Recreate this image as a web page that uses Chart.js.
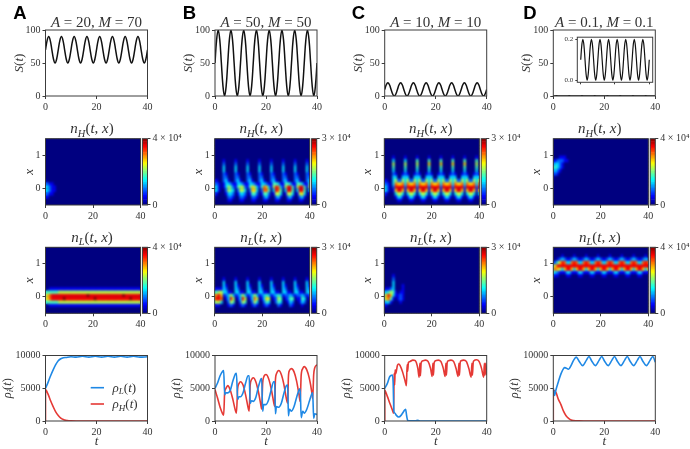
<!DOCTYPE html>
<html><head><meta charset="utf-8">
<script src="https://cdn.jsdelivr.net/npm/chart.js@4"></script>
<style>
html,body{margin:0;padding:0;background:#fff;width:690px;height:449px;overflow:hidden}
#page{position:relative;width:690px;height:449px;filter:blur(0.5px)}
canvas{position:absolute}
</style></head><body><div id="page"></div>
<script>
// ---------- categories and tick labels ----------
const panelLetters=["A","B","C","D"];
const paramLabels=[["20, ","70"],["50, ","50"],["10, ","10"],["0.1, ","0.1"]];
const xTicks=[0,20,40];
const sTicks=[0,50,100];
const rhoTicks=[0,5000,10000];
const heatYTicks=[0,1];
const insetYTicks=[0,0.2];
const cbarMaxH=[40000,30000,30000,40000];
const cbarMaxL=[40000,30000,30000,40000];
const cbarLabels={30000:"3 × 10⁴",40000:"4 × 10⁴",0:"0"};

// ---------- S(t) ----------
const tS=[0,0.625,1.25,1.875,2.5,3.125,3.75,4.375,5,5.625,6.25,6.875,7.5,8.125,8.75,9.375,10,10.625,11.25,11.875,12.5,13.125,13.75,14.375,15,15.625,16.25,16.875,17.5,18.125,18.75,19.375,20,20.625,21.25,21.875,22.5,23.125,23.75,24.375,25,25.625,26.25,26.875,27.5,28.125,28.75,29.375,30,30.625,31.25,31.875,32.5,33.125,33.75,34.375,35,35.625,36.25,36.875,37.5,38.125,38.75,39.375,40];
const sA=[70,84,90,84,70,56,50,56,70,84,90,84,70,56,50,56,70,84,90,84,70,56,50,56,70,84,90,84,70,56,50,56,70,84,90,84,70,56,50,56,70,84,90,84,70,56,50,56,70,84,90,84,70,56,50,56,70,84,90,84,70,56,50,56,70];
const sB=[50,85,100,85,50,15,0,15,50,85,100,85,50,15,0,15,50,85,100,85,50,15,0,15,50,85,100,85,50,15,0,15,50,85,100,85,50,15,0,15,50,85,100,85,50,15,0,15,50,85,100,85,50,15,0,15,50,85,100,85,50,15,0,15,50];
const sC=[10,17,20,17,10,3,0,3,10,17,20,17,10,3,0,3,10,17,20,17,10,3,0,3,10,17,20,17,10,3,0,3,10,17,20,17,10,3,0,3,10,17,20,17,10,3,0,3,10,17,20,17,10,3,0,3,10,17,20,17,10,3,0,3,10];
const sD=[.1,.17,.2,.17,.1,.03,0,.03,.1,.17,.2,.17,.1,.03,0,.03,.1,.17,.2,.17,.1,.03,0,.03,.1,.17,.2,.17,.1,.03,0,.03,.1,.17,.2,.17,.1,.03,0,.03,.1,.17,.2,.17,.1,.03,0,.03,.1,.17,.2,.17,.1,.03,0,.03,.1,.17,.2,.17,.1,.03,0,.03,.1];

// ---------- rho(t) ----------
const tLA=[0,1,2,3,4,5,6,7,8,10,12,14.5,17,19.5,22,24.5,27,29.5,32,34.5,37,40];
const rLA=[5000,5900,6900,7800,8600,9200,9500,9650,9700,9800,9750,9880,9750,9880,9750,9880,9750,9880,9750,9880,9750,9800];
const tHA=[0,0,1,2,3,4,5,6,7,8,9,10,12,40];
const rHA=[0,4800,4100,3100,2200,1400,850,450,220,100,50,20,0,0];

const tLB=[0,1,2,3,3.4,3.8,4.2,5,6,7,8,8.4,8.9,9.4,10,11,12,13,13.4,13.8,14.3,15,16,17,18,18.3,18.7,19.1,20,21,22,23,23.4,23.7,24.1,25,26,27,28,28.5,28.8,29.2,30,31,32,33,33.4,33.8,34.4,35,36,37,38,38.3,38.7,39.1,40];
const rLB=[5000,5800,6900,7600,7700,4000,4300,4300,4700,6100,7200,7300,3300,3700,3700,4300,5800,6900,6900,2700,3100,3000,3600,5200,6400,6500,1500,2500,2500,3200,4700,6000,6000,1100,2200,2100,2700,4200,5400,5500,800,1800,1500,2200,3600,4800,4900,500,1500,1200,1800,3000,4200,4300,400,1100,1000];
const tHB=[0,1,2,3,3.4,3.8,4.2,5,6,7,8,8.4,8.9,9.4,10,11,12,13,13.4,13.8,14.3,15,16,17,18,18.3,18.7,19.1,20,21,22,23,23.4,23.7,24.1,25,26,27,28,28.5,28.8,29.2,30,31,32,33,33.4,33.8,34.4,35,36,37,38,38.3,38.7,39.1,40];
const rHB=[4800,3500,2100,1100,900,4400,4900,5400,4700,3300,1600,1200,5000,5700,6000,5500,4000,2000,1500,5500,6300,6600,6000,4500,2400,1800,5800,6700,7100,6500,5000,2900,2200,6300,7200,7700,7100,5600,3400,2700,6800,7700,8000,7500,6100,3900,3000,7000,8000,8300,7800,6500,4300,3400,7100,8100,8600];

const tLC=[0,1,2,3,3.3,3.6,4,4.5,5.5,6.5,7.5,8.2,8.6,9,10,12,13,14,16,40];
const rLC=[5000,5700,6800,7000,6000,1500,1200,900,600,900,1500,1800,800,100,20,30,100,10,0,0];
const tHC=[0,0,1,2,3,3.5,3.7,3.9,4.1,4.3,5,5.5,6,7,8,8.5,8.8,9,9.3,10,11,12,13,13.5,13.8,14,14.3,15,16,17,18,18.6,18.9,19.1,19.4,20,21,22,23,23.7,24,24.2,24.5,25,26,27,28,28.8,29.1,29.3,29.6,30,31,32,33,33.9,34.2,34.4,34.7,35,36,37,38,38.8,39.1,39.3,39.6,40];
const rHC=[0,4700,3800,2700,1700,1200,7300,5500,7800,7200,8500,8700,8500,7500,6100,5400,8600,7600,8900,9100,9300,9200,8000,6700,8800,6900,8900,9200,9300,9100,8000,6800,8800,7000,8900,9200,9300,9100,8000,6800,8800,7000,8900,9200,9300,9100,8000,6800,8800,7000,8900,9200,9300,9100,8000,6700,8800,7000,8900,9200,9350,9100,8000,6700,8800,7000,8800,7000];

const tLD=[0,0.5,1,2,3,4,4.5,6,7,8,9,10,11.5,13,14,15,16.5,18,19,20,21.5,23,24,25,26.5,28,29,30,31.5,33,34,35,36.5,38,39,40];
const rLD=[5000,3900,4700,6000,7200,8000,8150,7900,8500,9300,9750,9200,8450,9300,9850,9200,8450,9300,9850,9200,8450,9300,9850,9200,8450,9300,9850,9200,8450,9300,9850,9200,8450,9300,9850,9000];
const tHD=[0,0,1,2,3,4,5,6,7,8,10,12,40];
const rHD=[0,4700,4400,3300,2500,1500,800,400,150,70,20,0,0];

// ---------- heat maps: rows run from x=1.45 down to x=-0.45, columns are t=0..40, digits are levels 0-9 of the colour bar (spaces only group them by period) ----------
const heatXRows=[1.45,1.35,1.25,1.15,1.05,.95,.85,.75,.65,.55,.45,.35,.25,.15,.05,-.05,-.15,-.25,-.35,-.45];
const nH_A=["","","","","","","","","","","","",
"10",
"22110",
"33211",
"33211",
"22110",
"11",
"",""];
const nL_A=["","","","","","","","","","","","",
"1011 11111 11111 11111 11111 11111 11111 11111 11",
"3444 44555 55555 55555 55555 55555 55555 55555 55",
"4678 88888 88888 88889 88888 88888 88889 88888 88",
"4678 88889 88888 88888 88988 88888 88888 88988 88",
"3444 44555 55555 55555 55555 55555 55555 55555 55",
"1011 11111 11111 11111 11111 11111 11111 11111 11",
"",""];
const nH_B=["","","","","","",
"0000 10000 10000 10000 10000 10000 10000 10000 10",
"0000 20000 20000 20000 20000 20000 20000 20000 20",
"0000 30000 30000 30000 30000 30000 30000 30000 30",
"0000 30000 30000 30000 30000 30000 30000 30000 30",
"0000 21000 21000 21000 21000 21000 21000 21000 21",
"0000 22000 22000 22000 22000 22000 22000 22000 22",
"1100 23100 23100 23100 23100 23100 23100 23100 23",
"2210 13321 13321 13321 13321 14431 14431 14431 14",
"3310 13542 14552 14653 14763 15873 15884 15884 15",
"3310 02543 02553 02663 02774 03874 03884 03884 03",
"2100 01332 01332 01442 01442 01553 01553 01563 01",
"1000 00221 00221 00221 00231 00231 00231 00231 00",
"0000 00110 00110 00110 00110 00110 00110 00110 00",
""];
const nL_B=["","","","","","","","","",
"0000 10000 10000 10000 10000 10000 10000 10000 10",
"0000 30000 30000 30000 30000 30000 30000 30000 30",
"0000 31000 31000 31000 31000 31000 31000 31000 31",
"1111 32000 32000 32000 32000 32000 32000 32000 32",
"4455 33110 33110 33110 33110 33110 33110 33110 33",
"6786 12353 12353 12353 12343 12343 12232 12232 12",
"6887 01385 01385 01375 01365 01254 01244 01143 01",
"4553 00254 00254 00253 00243 00243 00132 00132 00",
"1110 00121 00121 00121 00121 00021 00021 00010 00",
"",""];
const nH_C=["","","","","",
"0000 10000 10000 10000 10000 10000 10000 10000 10",
"0000 30000 30000 40000 40000 40000 40000 40000 40",
"0000 50000 50000 50000 60000 60000 60000 60000 50",
"0000 40000 40000 40000 40000 40000 40000 40000 40",
"0000 30000 30000 30000 30000 30000 30000 30000 30",
"0000 21001 21001 21001 21001 21001 21001 21001 21",
"0000 33003 33003 33003 33003 33003 33003 33003 33",
"1100 35225 35225 35225 35225 35225 35225 35225 35",
"2210 37667 37667 37667 37667 37667 37667 37667 37",
"3310 28888 28888 28888 28888 28888 28888 28888 28",
"3310 16886 16886 16886 16886 16886 16886 16886 16",
"2100 03553 03553 03553 03553 03553 03553 03553 03",
"1000 01331 01331 01331 01331 01331 01331 01331 01",
"0000 00110 00110 00110 00110 00110 00110 00110 00",
""];
const nL_C=["","","","","","","","",
"0000 1",
"0000 2",
"0000 3",
"0000 30001",
"0112 30001",
"3345 41011",
"4686 31121",
"4674 10121",
"2331 00010",
"11",
"",""];
const nH_D=["","","","","",
"0001110",
"11222110",
"23321",
"34321",
"2321",
"121",
"1",
"","","","","","","",""];
const nL_D=["","",
"0000 10000 10000 10000 10000 10000 10000 10000 10",
"0012 32112 32112 32112 32112 32112 32112 32112 32",
"1246 87337 87337 87337 87337 87337 87337 87337 87",
"4688 88888 88888 88888 88888 88888 88888 88888 88",
"5765 36886 36886 36886 36886 36886 36886 36886 36",
"4321 11331 11331 11331 11331 11331 11331 11331 11",
"2110 00110 00110 00110 00110 00110 00110 00110 00",
"","","","","","","","","","",""];

// ---------- styles ----------
const INK="#333333",FRAME="#3c3c3c",BLUE="#1e88e5",RED="#e53935",SERIF="'Liberation Serif'";
const colX=[45.5,215,384.7,553.3], colW=102;
const heatX=[45.5,214.7,384.3,553.3], heatW=95;
const page=document.getElementById("page");

function jet(v){
  const c=f=>Math.round(255*Math.max(0,Math.min(1,f)));
  return `rgb(${c(1.5-Math.abs(4*v-3))},${c(1.5-Math.abs(4*v-2))},${c(1.5-Math.abs(4*v-1))})`;
}
function drawSegs(ctx,segs,x,y,size,rot,align){
  const font=s=>s==="b"?`bold ${size}px 'Liberation Sans'`:s==="r"?`${size}px ${SERIF}`:s==="s"?`italic ${size*.7}px ${SERIF}`:`italic ${size}px ${SERIF}`;
  ctx.save();ctx.translate(x,y);if(rot)ctx.rotate(-Math.PI/2);
  ctx.textBaseline="alphabetic";ctx.textAlign="left";ctx.fillStyle=segs.some(s=>s[1]==="b")?"#000":INK;
  let w=0;for(const [t,s] of segs){ctx.font=font(s);w+=ctx.measureText(t).width;}
  let px=align==="left"?0:-w/2;
  for(const [t,s] of segs){ctx.font=font(s);ctx.fillText(t,px,s==="s"?size*.22:0);px+=ctx.measureText(t).width;}
  ctx.restore();
}
function makeChart(box,type,datasets,x,y,opts={}){
  const m=Object.assign({l:44,r:14,t:26,b:16},box.m||{});
  const left=Math.floor(box.L-m.l), top=Math.floor(box.T-m.t);
  const W=Math.ceil(box.L+box.W+m.r)-left, H=Math.ceil(box.T+box.H+m.b)-top;
  const cv=document.createElement("canvas");
  cv.style.left=left+"px";cv.style.top=top+"px";cv.style.width=W+"px";cv.style.height=H+"px";cv.width=W;cv.height=H;
  page.appendChild(cv);
  const rightM=left+W-box.L-box.W, leftM=box.L-left, botM=top+H-box.T-box.H;
  const pads={left:opts.rightAxis?leftM:0,top:box.T-top,right:opts.rightAxis?0:rightM,bottom:0};
  x.afterFit=s=>{s.height=botM;};
  y.afterFit=s=>{s.width=opts.rightAxis?rightM:leftM;};
  const plugin={id:"panelFurniture",
    beforeDatasetsDraw(ch){
      const a=ch.chartArea,c=ch.ctx;
      if(opts.fill){c.save();c.fillStyle=opts.fill;c.fillRect(a.left,a.top,a.width,a.height);c.restore();}
    },
    afterDatasetsDraw(ch){
      if(!opts.blur)return;
      const a=ch.chartArea,c=ch.ctx;c.save();c.beginPath();c.rect(a.left,a.top,a.width,a.height);c.clip();
      c.filter=`blur(${opts.blur}px)`;c.drawImage(ch.canvas,a.left,a.top,a.width,a.height,a.left,a.top,a.width,a.height);c.restore();
    },
    afterDraw(ch){
      const a=ch.chartArea,c=ch.ctx;
      c.save();c.strokeStyle=FRAME;c.lineWidth=1;c.strokeRect(a.left,a.top,a.width,a.height);c.restore();
      for(const it of (opts.text||[])) drawSegs(c,it.segs,it.x-left,it.y-top,it.size,it.rot,it.align);
      for(const l of (opts.lines||[])){c.save();c.strokeStyle=l.color;c.lineWidth=1.6;c.beginPath();c.moveTo(l.x0-left,l.y-top);c.lineTo(l.x1-left,l.y-top);c.stroke();c.restore();}
    }};
  return new Chart(cv,{type,data:{datasets},plugins:[plugin],options:{
    responsive:false,animation:false,devicePixelRatio:1,events:[],
    layout:{padding:pads},
    plugins:{legend:{display:false},tooltip:{enabled:false},title:{display:false}},
    scales:{x,y}}});
}
function axis(min,max,ticks,pos,fmt,size=10,showLabel=true,tl=3){
  return {type:"linear",position:pos,min,max,offset:false,
    afterBuildTicks:s=>{s.ticks=ticks.map(value=>({value}));},
    grid:{display:true,drawOnChartArea:false,drawTicks:true,tickLength:tl,color:FRAME,offset:false},
    border:{display:false},
    ticks:{display:showLabel,autoSkip:false,maxRotation:0,minRotation:0,padding:2,color:INK,
      font:{family:"Liberation Serif",size},callback:fmt||(v=>String(v))}};
}
function linePts(ts,vs){return ts.map((x,i)=>({x,y:vs[i]}));}
function lineSet(ts,vs,color,width,mono){return {data:linePts(ts,vs),borderColor:color,borderWidth:width,pointRadius:0,fill:false,
   tension:mono?0:.4,cubicInterpolationMode:mono?"monotone":"default"};}

// ---------- row 1: S(t) ----------
const sets=[sA,sB,sC,sD];
const T1=30,H1=66;
sets.forEach((s,i)=>{
  const L=colX[i];
  const [a,m]=paramLabels[i];
  const title=[["A","i"],[" = ","r"],[a,"r"],["M","i"],[" = ","r"],[m,"r"]];
  makeChart({L,T:T1,W:colW,H:H1,m:{t:30}},"line",[lineSet(tS,s,"#111",1.5)],
    axis(0,40,xTicks,"bottom"),axis(0,100,sTicks,"left"),{text:[
      {segs:title,x:L+colW/2,y:T1-3,size:15},
      {segs:[["S","i"],["(","r"],["t","i"],[")","r"]],x:L-23,y:T1+H1/2,size:13,rot:true},
      {segs:[[panelLetters[i],"b"]],x:[20,189.5,358.5,530][i],y:18.5,size:18.5}
    ]});
});
// inset of panel D
makeChart({L:577.3,T:34,W:75.4,H:48.3,m:{l:22,r:3,t:3,b:6}},"line",[lineSet(tS,sD,"#111",1.2)],
  axis(-2,42,xTicks,"bottom",()=>"",7,false,2),
  axis(-.01,.21,insetYTicks,"left",v=>v.toFixed(1),7,true,2),{fill:"#fff"});

// ---------- rows 2 and 3: heat maps ----------
function heatSets(rows){
  return rows.map((raw,r)=>{
    const row=raw.replace(/ /g,"");
    const cols=Array.from({length:xTicks[2]+1},(_,k)=>k);
    const yc=heatXRows[r];
    return {data:cols.map(k=>({x:k,y:[yc-.05,yc+.05]})),
      backgroundColor:cols.map(k=>jet((+row[k]||0)/9)),
      borderWidth:0,barPercentage:1,categoryPercentage:1,grouped:false};
  });
}
function heatmap(rows,i,T,H,max,sub){
  const L=heatX[i];
  makeChart({L,T,W:heatW,H},"bar",heatSets(rows),axis(0,40,xTicks,"bottom"),axis(-.5,1.5,heatYTicks,"left"),
    {fill:"#000080",blur:1,text:[
      {segs:[["n","i"],[sub,"s"],["(","r"],["t","i"],[", ","r"],["x","i"],[")","r"]],x:L+heatW/2-1,y:T-5.3,size:15},
      {segs:[["x","i"]],x:L-13,y:T+H/2,size:13,rot:true}
    ]});
  // colour bar
  const cL=L+heatW+1.9,cW=colW-heatW-1.9;
  const steps=Array.from({length:48},(_,k)=>k);
  const cs=steps.map(k=>({data:[{x:0,y:[k/48*max,(k+1)/48*max]}],backgroundColor:jet((k+.5)/48),borderWidth:0,barPercentage:1,categoryPercentage:1,grouped:false}));
  makeChart({L:cL,T,W:cW,H,m:{l:2,r:45}},"bar",cs,
    Object.assign(axis(-.5,.5,[],"bottom",()=>"",10,false),{display:false}),
    axis(0,max,[0,max],"right",v=>cbarLabels[v]),{rightAxis:true});
}
cbarMaxH.forEach((mx,i)=>heatmap([nH_A,nH_B,nH_C,nH_D][i],i,138.7,66.3,mx,"H"));
cbarMaxL.forEach((mx,i)=>heatmap([nL_A,nL_B,nL_C,nL_D][i],i,247.3,66,mx,"L"));

// ---------- row 4: rho ----------
const T4=355.5,H4=65.5;
const rho=[[tLA,rLA,tHA,rHA],[tLB,rLB,tHB,rHB],[tLC,rLC,tHC,rHC],[tLD,rLD,tHD,rHD]];
rho.forEach((d,i)=>{
  const L=colX[i];
  const text=[
    {segs:[["ρ","i"],["i","s"],["(","r"],["t","i"],[")","r"]],x:L-35,y:T4+H4/2,size:12.5,rot:true},
    {segs:[["t","i"]],x:L+colW/2,y:445,size:13}
  ];
  const lines=[];
  if(i===0){
    text.push({segs:[["ρ","i"],["L","s"],["(","r"],["t","i"],[")","r"]],x:112.5,y:391.5,size:13,align:"left"});
    text.push({segs:[["ρ","i"],["H","s"],["(","r"],["t","i"],[")","r"]],x:112.5,y:408,size:13,align:"left"});
    lines.push({x0:90.7,x1:104,y:387.7,color:BLUE},{x0:90.7,x1:104,y:404,color:RED});
  }
  makeChart({L,T:T4,W:colW,H:H4,m:{b:28}},"line",[lineSet(d[0],d[1],BLUE,1.6,true),lineSet(d[2],d[3],RED,1.6,true)],
    axis(0,40,xTicks,"bottom"),axis(0,10000,rhoTicks,"left"),{text,lines});
});
</script></body></html>
